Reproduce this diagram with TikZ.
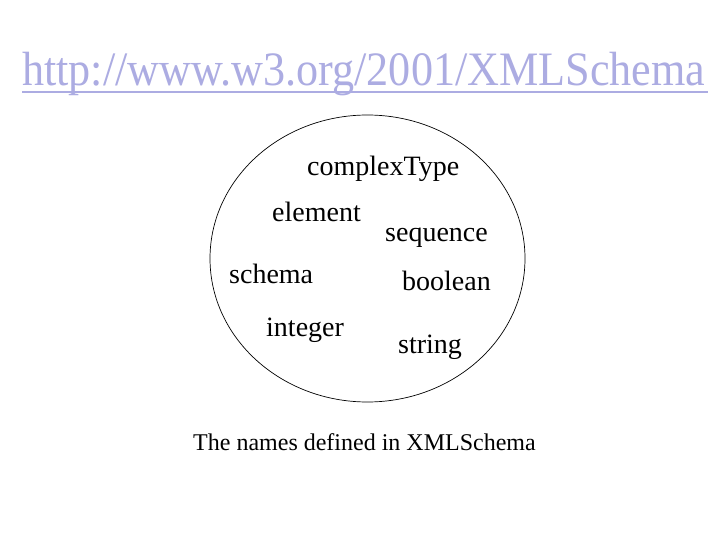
\documentclass[tikz,border=0pt]{standalone}
\usepackage{fontspec}
\setmainfont{Liberation Serif}
\usetikzlibrary{shapes.geometric}
\definecolor{linkcol}{RGB}{172,172,226}
\tikzset{
  word/.style={anchor=base west, inner sep=0pt, font=\fontsize{28}{31}\selectfont},
  caption/.style={anchor=base west, inner sep=0pt, font=\fontsize{24}{28}\selectfont},
  title/.style={anchor=base west, inner sep=0pt, text=linkcol, font=\fontsize{48}{52}\selectfont, xscale=0.92}
}
\begin{document}
\begin{tikzpicture}[x=1pt,y=1pt]
\useasboundingbox (0,0) rectangle (720,-540);
\fill[white] (0,0) rectangle (720,-540);
\node[title] (title) at (22,-86) {http://www.w3.org/2001/XMLSchema};
\draw[linkcol, line width=2pt] (22,-92) -- (708,-92);
\node[draw, ellipse, minimum width=315pt, minimum height=287pt, inner sep=0pt, line width=0.7pt] (set) at (367.5,-258.5) {};
\node[word] (complexType) at (307,-176) {complexType};
\node[word] (element) at (272,-222) {element};
\node[word] (sequence) at (385,-241) {sequence};
\node[word] (schema) at (229,-283) {schema};
\node[word] (boolean) at (402,-290) {boolean};
\node[word] (integer) at (266,-336) {integer};
\node[word] (string) at (398,-353) {string};
\node[caption] (cap) at (193,-450) {The names defined in XMLSchema};
\end{tikzpicture}
\end{document}
